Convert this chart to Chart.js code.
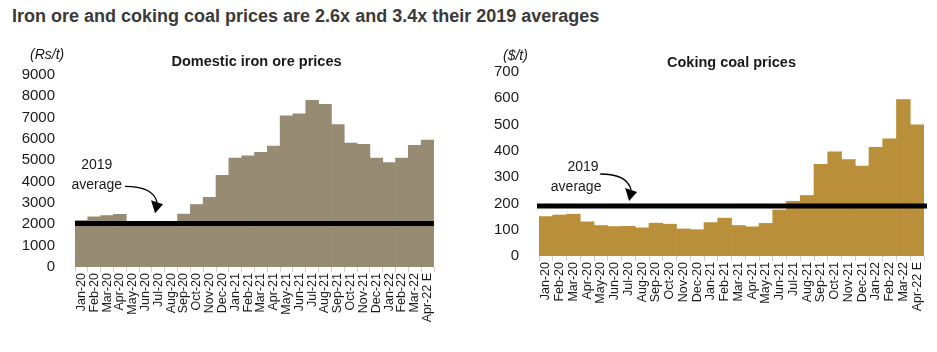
<!DOCTYPE html>
<html>
<head>
<meta charset="utf-8">
<script src="https://cdn.jsdelivr.net/npm/chart.js@4.4.1/dist/chart.umd.min.js"></script>
<style>
  body { margin: 0; background: #fff; font-family: 'Liberation Sans', Arial, sans-serif; }
  #wrap { position: relative; width: 937px; height: 352px; overflow: hidden; }
  #title { position: absolute; left: 12px; top: 6px; font-size: 18px; font-weight: bold; color: #3a3a3a; white-space: nowrap; }
  .box { position: absolute; top: 40px; height: 312px; }
</style>
</head>
<body>
<div id="wrap">
  <div id="title">Iron ore and coking coal prices are 2.6x and 3.4x their 2019 averages</div>
  <div class="box" style="left:0;width:470px"><canvas id="ironChart"></canvas></div>
  <div class="box" style="left:470px;width:467px"><canvas id="coalChart"></canvas></div>
</div>
<script>
const months = ['Jan-20', 'Feb-20', 'Mar-20', 'Apr-20', 'May-20', 'Jun-20', 'Jul-20', 'Aug-20', 'Sep-20', 'Oct-20', 'Nov-20', 'Dec-20',
  'Jan-21', 'Feb-21', 'Mar-21', 'Apr-21', 'May-21', 'Jun-21', 'Jul-21', 'Aug-21', 'Sep-21', 'Oct-21', 'Nov-21', 'Dec-21',
  'Jan-22', 'Feb-22', 'Mar-22', 'Apr-22 E'];

const ironOre = [2180, 2350, 2410, 2470, 2050, 2050, 2050, 2050, 2480, 2930, 3260, 4300,
  5100, 5210, 5370, 5670, 7090, 7180, 7810, 7620, 6680, 5810, 5750, 5100,
  4900, 5110, 5700, 5950];
const ironAvg2019 = 2040;

const cokingCoal = [150, 156, 159, 130, 116, 112, 113, 107, 125, 121, 103, 100,
  127, 144, 116, 111, 124, 175, 208, 230, 349, 396, 367, 342,
  413, 446, 595, 499];
const coalAvg2019 = 190;

const ironTicks = { min: 0, max: 9000, step: 1000 };
const coalTicks = { min: 0, max: 700, step: 100 };

const FONT = "'Liberation Sans', Arial, sans-serif";

function overlayPlugin(opts) {
  return {
    id: 'overlay',
    afterDatasetsDraw(chart) {
      const { ctx, chartArea, scales } = chart;
      const x = scales.x, y = scales.y;
      ctx.save();
      // 2019 average line
      const ly = y.getPixelForValue(opts.avg);
      ctx.strokeStyle = '#000';
      ctx.lineWidth = 5;
      ctx.beginPath();
      ctx.moveTo(chartArea.left + opts.lineExt[0], ly);
      ctx.lineTo(chartArea.right + opts.lineExt[1], ly);
      ctx.stroke();

      // annotation text
      ctx.fillStyle = '#1a1a1a';
      ctx.font = '14px ' + FONT;
      ctx.textAlign = 'center';
      ctx.textBaseline = 'middle';
      ctx.fillText('2019', x.getPixelForValue(opts.yearAt[0]), y.getPixelForValue(opts.yearAt[1]));
      ctx.fillText('average', x.getPixelForValue(opts.avgAt[0]), y.getPixelForValue(opts.avgAt[1]));

      // curved arrow
      const sx = x.getPixelForValue(opts.arrow[0]), sy = y.getPixelForValue(opts.arrow[1]);
      const ex = x.getPixelForValue(opts.arrow[2]), ey = y.getPixelForValue(opts.arrow[3]);
      ctx.lineWidth = 1.3;
      ctx.strokeStyle = '#000';
      ctx.beginPath();
      ctx.moveTo(sx, sy);
      ctx.quadraticCurveTo(ex - 4, sy, ex, ey - 8);
      ctx.stroke();
      ctx.fillStyle = '#000';
      ctx.beginPath();
      ctx.moveTo(ex - 6, ey - 10);
      ctx.lineTo(ex + 6, ey - 6);
      ctx.lineTo(ex - 2, ey + 3);
      ctx.closePath();
      ctx.fill();

      // chart title and unit
      ctx.fillStyle = '#1a1a1a';
      ctx.font = 'bold 14.5px ' + FONT;
      ctx.textAlign = 'center';
      ctx.fillText(opts.title, (chartArea.left + chartArea.right) / 2 + opts.titleDx, opts.titleY);
      ctx.font = 'italic 14px ' + FONT;
      ctx.textAlign = 'left';
      ctx.fillText(opts.unit, opts.unitX, opts.unitY);
      ctx.restore();
    },
  };
}

function barOptions(ticks, layout) {
  return {
    responsive: true,
    maintainAspectRatio: false,
    animation: false,
    layout: { padding: { left: 0, right: layout.right, top: layout.top, bottom: 0 } },
    plugins: { legend: { display: false }, tooltip: { enabled: false } },
    scales: {
      x: {
        offset: true,
        grid: { display: true, drawOnChartArea: false, offset: true, color: '#d0d0d0', tickLength: 5 },
        border: { display: false },
        ticks: { color: '#1a1a1a', font: { family: FONT, size: 12.5 }, minRotation: 90, maxRotation: 90, autoSkip: false, padding: 1 },
        afterFit(scale) { scale.height = layout.xHeight; },
      },
      y: {
        min: ticks.min, max: ticks.max,
        grid: { display: false },
        border: { display: false },
        ticks: { stepSize: ticks.step, color: '#1a1a1a', font: { family: FONT, size: 15 }, padding: layout.yPad, callback: (v) => String(v) },
        afterFit(scale) { scale.width = layout.yWidth; },
      },
    },
  };
}

new Chart(document.getElementById('ironChart'), {
  type: 'bar',
  data: {
    labels: months,
    datasets: [{ data: ironOre, backgroundColor: '#978b74', borderWidth: 0, categoryPercentage: 1, barPercentage: 1 }],
  },
  options: barOptions(ironTicks, { right: 36, top: 35, xHeight: 85, yWidth: 75, yPad: 12 }),
  plugins: [overlayPlugin({
    avg: ironAvg2019, lineExt: [0, 0],
    yearAt: [1.2, 4780], avgAt: [1.2, 3830], arrow: [3.4, 3780, 5.9, 2660],
    title: 'Domestic iron ore prices', titleDx: 2, titleY: 22,
    unit: '(Rs/t)', unitX: 30, unitY: 15,
  })],
});

new Chart(document.getElementById('coalChart'), {
  type: 'bar',
  data: {
    labels: months,
    datasets: [{ data: cokingCoal, backgroundColor: '#b98f39', borderWidth: 0, categoryPercentage: 1, barPercentage: 1 }],
  },
  options: barOptions(coalTicks, { right: 13, top: 32, xHeight: 96, yWidth: 69, yPad: 12 }),
  plugins: [overlayPlugin({
    avg: coalAvg2019, lineExt: [-2, 3],
    yearAt: [2.7, 339], avgAt: [2.2, 263], arrow: [3.95, 312, 6.2, 221],
    title: 'Coking coal prices', titleDx: 0, titleY: 23,
    unit: '($/t)', unitX: 33, unitY: 16,
  })],
});
</script>
</body>
</html>
